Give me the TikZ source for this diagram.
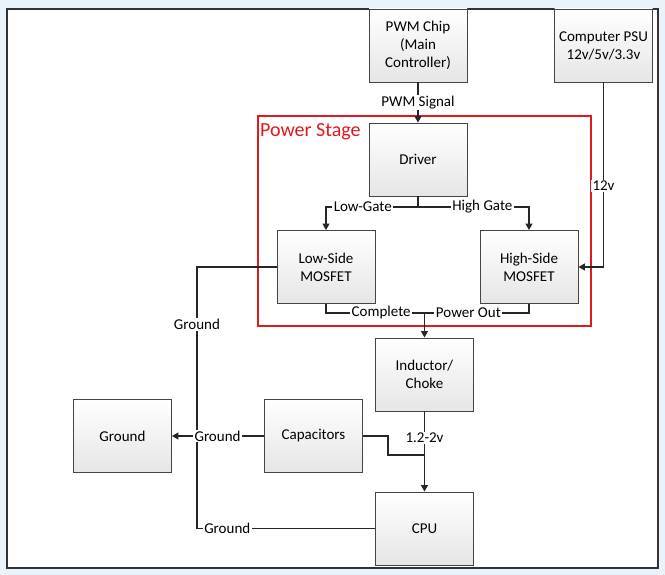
\documentclass[tikz,border=0pt]{standalone}
\usepackage{fontspec}
\setmainfont{Carlito}
\usetikzlibrary{arrows.meta}
\definecolor{bgblue}{HTML}{EAF2FA}
\definecolor{boxline}{HTML}{454545}
\definecolor{psred}{HTML}{E0191E}
\begin{document}
\begin{tikzpicture}[x=1pt,y=-1pt,
  blk/.style={draw=boxline, line width=0.9pt, top color=white, bottom color=gray!20,
    minimum width=98pt, minimum height=73pt, align=center, inner sep=2pt,
    font=\fontsize{15}{18}\selectfont},
  lbl/.style={fill=white, inner xsep=1.5pt, inner ysep=1pt, font=\fontsize{15}{18}\selectfont},
  conn/.style={line width=1.2pt, draw=black!85},
  arr/.style={conn, -{Triangle[width=7pt,length=6.5pt]}}]
\fill[bgblue] (0,0) rectangle (665,575);
\useasboundingbox (0,0) rectangle (665,575);
\draw[fill=white, draw=black!80, line width=1.5pt] (7,9) rectangle (658,568);

% blocks
\node[blk] (pwm) at (418,45.5) {PWM Chip\\(Main\\Controller)};
\node[blk] (psu) at (603.5,45.5) {Computer PSU\\12v/5v/3.3v};
\node[blk] (drv) at (418,159.5) {Driver};
\node[blk] (low) at (326,267) {Low-Side\\MOSFET};
\node[blk] (high) at (529,267) {High-Side\\MOSFET};
\node[blk] (ind) at (424.5,374.5) {Inductor/\\Choke};
\node[blk] (gnd) at (122.5,436) {Ground};
\node[blk] (cap) at (313.5,436) {Capacitors};
\node[blk] (cpu) at (424.5,528.5) {CPU};

% power stage frame
\draw[psred, line width=2pt] (258,116) rectangle (591,326);
\node[anchor=base west, text=psred, font=\fontsize{20}{24}\selectfont, inner sep=0pt] (ps) at (260,137) {Power Stage};

% coordinates
\coordinate (jd) at (418,207);
\coordinate (jc) at (424.5,313);
\coordinate (g1) at (197,267);
\coordinate (g3) at (197,528.5);
\coordinate (cb) at (388,455);

% connectors
\draw[arr] (pwm.south) -- node[lbl]{PWM Signal} (drv.north);
\draw[conn] (drv.south) -- (jd);
\draw[arr] (jd) -| node[lbl,pos=0.3]{Low-Gate} (low.north);
\draw[arr] (jd) -| node[lbl,pos=0.29]{High Gate} (high.north);
\draw[arr] (psu.south) |- node[lbl,pos=0.28]{12v} (high.east);
\draw[conn] (low.west) -- (g1) -- node[lbl,pos=0.22]{Ground} (g3) -- node[lbl,pos=0.17]{Ground} (cpu.west);
\draw[arr] (cap.west) -- node[lbl,pos=0.505]{Ground} (gnd.east);
\draw[conn] (low.south) |- node[lbl,pos=0.78]{Complete} (jc);
\draw[conn] (high.south) |- node[lbl,pos=0.79]{Power Out} (jc);
\draw[arr] (jc) -- (ind.north);
\draw[conn] (cap.east) -| (cb) -- (cb -| ind.south);
\draw[arr] (ind.south) -- node[lbl,pos=0.33]{1.2-2v} (cpu.north);
\end{tikzpicture}
\end{document}
